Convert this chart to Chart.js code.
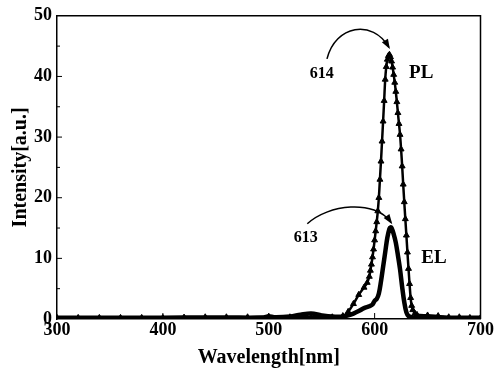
<!DOCTYPE html>
<html>
<head>
<meta charset="utf-8">
<script src="https://cdn.jsdelivr.net/npm/chart.js@4.4.1/dist/chart.umd.min.js"></script>
<style>
html,body{margin:0;padding:0;background:#fff;}
#wrap{width:495px;height:370px;}
</style>
</head>
<body>
<div id="wrap"><canvas id="c" width="495" height="370"></canvas></div>
<script>
// ---- data ----
const plWavelength = [300,320,340,360,380,400,420,440,460,480,500,520,540,560,570,575,580,585,590,593,
  595,596,597,598,599,600,601,602,603,604,605,606,607,608,609,610,611,612,613,614,615,616,617,618,619,620,
  621,622,623,624,625,626,627,628,629,630,631,632,633,634,635,636,638,640,650,660,670,680,690,700];
const plIntensity = [0.2,0.2,0.2,0.2,0.2,0.2,0.25,0.3,0.3,0.3,0.35,0.3,0.3,0.3,0.5,1.2,2.5,4.0,5.2,6.0,
  7.0,8.0,9.0,10.2,11.5,13.0,14.5,16.0,17.8,20.0,23.0,26.0,29.3,32.6,36.0,39.5,41.6,42.8,43.4,43.6,43.2,42.5,41.5,40.3,39.0,37.5,
  35.8,34.0,32.2,30.4,28.0,25.2,22.2,19.3,16.5,13.8,11.0,8.3,5.8,3.5,2.2,1.5,0.9,0.7,0.6,0.5,0.3,0.3,0.2,0.2];
const elWavelength = [300,340,380,420,460,495,500,505,520,530,540,550,560,570,575,580,585,590,595,598,
  600,602,604,606,608,610,612,614,615,616,618,620,622,624,626,628,630,632,635,640,660,680,700];
const elIntensity = [0.2,0.2,0.2,0.25,0.25,0.25,0.45,0.3,0.4,0.7,0.9,0.6,0.4,0.4,0.6,0.9,1.3,1.8,2.1,2.4,
  3.0,3.3,4.2,6.2,8.6,11.0,13.4,14.9,15.1,15.0,14.0,12.6,10.5,8.2,5.3,2.8,1.1,0.5,0.3,0.2,0.2,0.2,0.2];
const xTicks = [300,400,500,600,700];
const yTicks = [0,10,20,30,40,50];
const annotations = [
  {text:'614', w:550, v:40.4, size:16},
  {text:'PL', w:644, v:40.6, size:19},
  {text:'613', w:535, v:13.3, size:16},
  {text:'EL', w:656, v:10.1, size:19}
];
const arrows = [
  {p0:[555,42.9], c1:[563,48.5], c2:[598,49.5], p1:[613.5,44.8]},
  {p0:[536.4,15.7], c1:[556,18.9], c2:[600,19.8], p1:[615.6,15.9]}
];

const toXY = (xs, ys) => xs.map((x,i)=>({x:x, y:ys[i]}));
const SERIF = '"Liberation Serif","Times New Roman",serif';

const framePlugin = {
  id:'frame',
  afterDraw(chart){
    const {ctx, chartArea:a, scales:{x,y}} = chart;
    ctx.save();
    ctx.strokeStyle='#000';
    ctx.lineWidth=1.5;
    ctx.beginPath();
    ctx.moveTo(a.left,a.top); ctx.lineTo(a.right,a.top); ctx.lineTo(a.right,a.bottom);
    ctx.stroke();
    ctx.lineWidth=1;
    ctx.beginPath();
    xTicks.slice(1,-1).forEach(t=>{const px=x.getPixelForValue(t); ctx.moveTo(px,a.bottom); ctx.lineTo(px,a.bottom-6);});
    for(let v=5; v<50; v+=5){
      const py=y.getPixelForValue(v);
      const len = (v%10===0)?5:3;
      ctx.moveTo(a.left,py); ctx.lineTo(a.left+len,py);
    }
    ctx.stroke();
    // annotations
    ctx.fillStyle='#000';
    ctx.textAlign='center'; ctx.textBaseline='middle';
    annotations.forEach(an=>{
      ctx.font='bold '+an.size+'px '+SERIF;
      ctx.fillText(an.text, x.getPixelForValue(an.w), y.getPixelForValue(an.v));
    });
    ctx.lineWidth=1.5;
    arrows.forEach(ar=>{
      const P=p=>[x.getPixelForValue(p[0]), y.getPixelForValue(p[1])];
      const p0=P(ar.p0), c1=P(ar.c1), c2=P(ar.c2), p1=P(ar.p1);
      ctx.beginPath();
      ctx.moveTo(p0[0],p0[1]);
      ctx.bezierCurveTo(c1[0],c1[1],c2[0],c2[1],p1[0],p1[1]);
      ctx.stroke();
      const ang=Math.atan2(p1[1]-c2[1], p1[0]-c2[0]);
      const L=8, W=3.5;
      ctx.beginPath();
      ctx.moveTo(p1[0]+Math.cos(ang)*2, p1[1]+Math.sin(ang)*2);
      ctx.lineTo(p1[0]-Math.cos(ang)*L - Math.sin(ang)*W, p1[1]-Math.sin(ang)*L + Math.cos(ang)*W);
      ctx.lineTo(p1[0]-Math.cos(ang)*L + Math.sin(ang)*W, p1[1]-Math.sin(ang)*L - Math.cos(ang)*W);
      ctx.closePath(); ctx.fill();
    });
    ctx.restore();
  }
};
const bgPlugin = {
  id:'bg',
  beforeDraw(chart){const c=chart.ctx; c.save(); c.fillStyle='#fff'; c.fillRect(0,0,chart.width,chart.height); c.restore();}
};

new Chart(document.getElementById('c'), {
  type:'scatter',
  data:{datasets:[
    {label:'EL', data:toXY(elWavelength, elIntensity), showLine:true, borderColor:'#000', borderWidth:4.5,
     pointRadius:0, tension:0.35, order:2},
    {label:'PL', data:toXY(plWavelength, plIntensity), showLine:true, borderColor:'#000', borderWidth:2.5,
     pointStyle:'triangle', pointRadius:3.4, pointBackgroundColor:'#000', pointBorderColor:'#000', pointBorderWidth:1,
     tension:0.35, order:1}
  ]},
  plugins:[bgPlugin, framePlugin],
  options:{
    responsive:false, animation:false,
    layout:{padding:{top:13,right:13,left:9,bottom:0}},
    plugins:{legend:{display:false}, tooltip:{enabled:false}},
    scales:{
      x:{type:'linear', min:300, max:700,
        afterBuildTicks:s=>{s.ticks=xTicks.map(v=>({value:v}));},
        afterFit:s=>{s.height=51;},
        grid:{display:false, drawTicks:false},
        border:{display:true,color:'#000',width:1.5},
        ticks:{color:'#000', font:{family:SERIF, size:18, weight:'bold'}, padding:1, maxRotation:0},
        title:{display:true, text:'Wavelength[nm]', color:'#000', font:{family:SERIF,size:20,weight:'bold'}, padding:{top:0,bottom:0}}
      },
      y:{type:'linear', min:0, max:50,
        afterBuildTicks:s=>{s.ticks=yTicks.map(v=>({value:v}));},
        afterFit:s=>{s.width=48;},
        grid:{display:false, drawTicks:false},
        border:{display:true,color:'#000',width:1.5},
        ticks:{color:'#000', font:{family:SERIF, size:18, weight:'bold'}, padding:5},
        title:{display:true, text:'Intensity[a.u.]', color:'#000', font:{family:SERIF,size:20,weight:'bold'}, padding:{top:0,bottom:0}}
      }
    }
  }
});
</script>
</body>
</html>
